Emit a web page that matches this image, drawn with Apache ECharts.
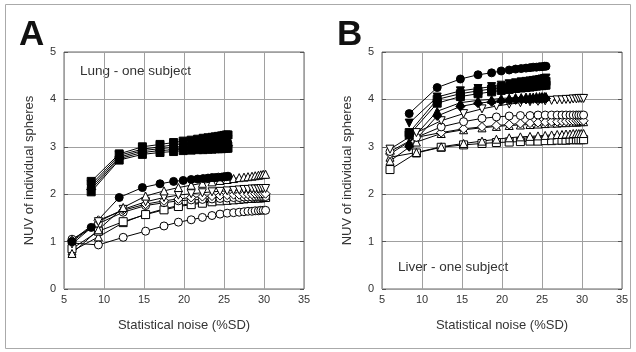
<!DOCTYPE html>
<html>
<head>
<meta charset="utf-8">
<script src="https://cdn.jsdelivr.net/npm/echarts@6/dist/echarts.min.js"></script>
<style>
  html, body { margin: 0; padding: 0; background: #fff; }
  #chart { width: 636px; height: 352px; }
</style>
</head>
<body>
<div id="chart"></div>
<script>
// noise levels (%SD) at each iteration
const xShort = [8.4, 11.9, 14.8, 17.0, 18.7, 19.9, 20.9, 21.7, 22.4, 23.0, 23.5, 23.9, 24.3, 24.7, 25.0, 25.3, 25.5];
const xShort6 = [6.0, 8.4, 11.9, 14.8, 17.0, 18.7, 19.9, 20.9, 21.7, 22.4, 23.0, 23.5, 23.9, 24.3, 24.7, 25.0, 25.3, 25.5];
const xLong = [6.0, 9.3, 12.4, 15.2, 17.5, 19.3, 20.9, 22.3, 23.5, 24.5, 25.4, 26.2, 26.9, 27.5, 28.0, 28.5, 28.9, 29.3, 29.6, 29.9, 30.2];

// A - lung
const aSqF = [2.27, 2.85, 3.0, 3.05, 3.09, 3.12, 3.14, 3.16, 3.18, 3.19, 3.2, 3.21, 3.22, 3.23, 3.24, 3.25, 3.25];
const aTriDnF = [2.2, 2.82, 2.95, 3.0, 3.04, 3.07, 3.09, 3.1, 3.11, 3.12, 3.13, 3.13, 3.14, 3.14, 3.15, 3.15, 3.15];
const aCircF = [2.15, 2.78, 2.92, 2.96, 2.99, 3.01, 3.02, 3.03, 3.04, 3.05, 3.05, 3.06, 3.06, 3.07, 3.07, 3.07, 3.08];
const aDiaF = [2.1, 2.75, 2.88, 2.92, 2.94, 2.96, 2.97, 2.98, 2.99, 3.0, 3.0, 3.01, 3.01, 3.02, 3.02, 3.02, 3.02];
const aSqF2 = [2.05, 2.72, 2.84, 2.88, 2.9, 2.92, 2.93, 2.94, 2.94, 2.95, 2.95, 2.96, 2.96, 2.96, 2.97, 2.97, 2.97];
const aCircF2 = [1.0, 1.3, 1.93, 2.14, 2.22, 2.27, 2.29, 2.31, 2.32, 2.33, 2.34, 2.35, 2.35, 2.36, 2.36, 2.37, 2.37, 2.38];
const aTriUpO = [0.75, 1.25, 1.72, 1.96, 2.07, 2.14, 2.19, 2.23, 2.26, 2.29, 2.31, 2.33, 2.35, 2.36, 2.37, 2.38, 2.39, 2.4, 2.41, 2.42, 2.42];
const aTriDnO = [0.95, 1.42, 1.68, 1.84, 1.93, 1.98, 2.01, 2.03, 2.05, 2.06, 2.07, 2.08, 2.09, 2.1, 2.1, 2.11, 2.11, 2.11, 2.12, 2.12, 2.12];
const aDiaO = [1.02, 1.45, 1.66, 1.79, 1.86, 1.9, 1.93, 1.95, 1.96, 1.97, 1.98, 1.99, 1.99, 2.0, 2.0, 2.0, 2.01, 2.01, 2.01, 2.01, 2.01];
const aCircO2 = [1.05, 1.38, 1.62, 1.76, 1.82, 1.86, 1.88, 1.89, 1.9, 1.91, 1.92, 1.93, 1.93, 1.94, 1.94, 1.94, 1.95, 1.95, 1.95, 1.95, 1.95];
const aSqO = [0.85, 1.22, 1.42, 1.57, 1.67, 1.74, 1.78, 1.81, 1.84, 1.86, 1.87, 1.88, 1.89, 1.9, 1.91, 1.91, 1.92, 1.92, 1.92, 1.93, 1.93];
const aTriUpO2 = [0.8, 1.1, 1.4, 1.58, 1.69, 1.76, 1.8, 1.83, 1.86, 1.88, 1.89, 1.9, 1.91, 1.92, 1.93, 1.93, 1.94, 1.94, 1.95, 1.95, 1.95];
const aCircO = [0.97, 0.93, 1.09, 1.22, 1.33, 1.41, 1.46, 1.51, 1.55, 1.58, 1.6, 1.61, 1.62, 1.63, 1.64, 1.64, 1.65, 1.65, 1.66, 1.66, 1.66];

// B - liver
const bCircF = [3.7, 4.25, 4.43, 4.52, 4.56, 4.6, 4.62, 4.64, 4.65, 4.66, 4.67, 4.68, 4.68, 4.69, 4.69, 4.7, 4.7];
const bTriDnF = [3.5, 4.05, 4.18, 4.23, 4.27, 4.3, 4.33, 4.35, 4.37, 4.38, 4.39, 4.4, 4.41, 4.42, 4.43, 4.44, 4.45];
const bSqF = [3.3, 4.0, 4.12, 4.18, 4.22, 4.25, 4.27, 4.29, 4.31, 4.32, 4.33, 4.34, 4.35, 4.36, 4.37, 4.38, 4.38];
const bSqF2 = [3.25, 3.92, 4.06, 4.12, 4.16, 4.19, 4.21, 4.23, 4.24, 4.25, 4.26, 4.27, 4.28, 4.29, 4.29, 4.3, 4.3];
const bTriF = [3.1, 3.75, 3.93, 3.98, 4.0, 4.02, 4.03, 4.04, 4.04, 4.05, 4.05, 4.05, 4.06, 4.06, 4.06, 4.06, 4.06];
const bDiaF = [3.0, 3.65, 3.85, 3.92, 3.95, 3.97, 3.98, 3.99, 4.0, 4.0, 4.0, 4.01, 4.01, 4.01, 4.01, 4.02, 4.02];
const bTriDnO = [2.95, 3.3, 3.55, 3.7, 3.8, 3.86, 3.9, 3.93, 3.95, 3.96, 3.97, 3.98, 3.99, 3.99, 4.0, 4.0, 4.01, 4.01, 4.02, 4.02, 4.02];
const bCircO = [2.9, 3.2, 3.42, 3.53, 3.6, 3.63, 3.65, 3.66, 3.66, 3.67, 3.67, 3.67, 3.67, 3.67, 3.67, 3.67, 3.67, 3.67, 3.67, 3.67, 3.67];
const bDiaO = [2.85, 3.2, 3.3, 3.38, 3.42, 3.45, 3.47, 3.49, 3.5, 3.51, 3.52, 3.53, 3.53, 3.54, 3.54, 3.55, 3.55, 3.55, 3.55, 3.55, 3.55];
const bTriUpO = [2.7, 3.1, 3.28, 3.36, 3.4, 3.43, 3.45, 3.46, 3.47, 3.48, 3.49, 3.5, 3.5, 3.51, 3.51, 3.52, 3.52, 3.52, 3.53, 3.53, 3.53];
const bTriUpO2 = [2.78, 2.88, 3.0, 3.07, 3.12, 3.16, 3.19, 3.21, 3.22, 3.23, 3.24, 3.25, 3.26, 3.26, 3.27, 3.27, 3.28, 3.28, 3.28, 3.28, 3.28];
const bSqO = [2.52, 2.87, 2.99, 3.04, 3.07, 3.09, 3.1, 3.11, 3.12, 3.12, 3.13, 3.13, 3.14, 3.14, 3.14, 3.15, 3.15, 3.15, 3.15, 3.15, 3.15];

const FONT = "Liberation Sans";
const SYM = { circle: ["circle", 0], square: ["rect", 0], triUp: ["triangle", 0], triDn: ["triangle", 180], diamond: ["diamond", 0] };

function line(panel, xs, ys, shape, filled) {
  const [symbol, rot] = SYM[shape];
  return {
    type: "line",
    xAxisIndex: panel,
    yAxisIndex: panel * 2,
    data: xs.map((x, i) => [x, ys[i]]),
    symbol,
    symbolRotate: rot,
    symbolSize: shape === "diamond" ? 9 : 8,
    showSymbol: true,
    lineStyle: { color: "#000", width: 1 },
    itemStyle: { color: filled ? "#000" : "#fff", borderColor: "#000", borderWidth: 1 },
    emphasis: { disabled: true },
  };
}

function xAxis(panel) {
  return {
    type: "value", gridIndex: panel, min: 5, max: 35, interval: 5,
    name: "Statistical noise (%SD)", nameLocation: "middle", nameGap: 30,
    nameTextStyle: { fontFamily: FONT, fontSize: 13, color: "#333" },
    axisLine: { show: false }, axisTick: { show: false },
    axisLabel: { fontFamily: FONT, fontSize: 11, color: "#333", margin: 5 },
    splitLine: { show: true, lineStyle: { color: "#a0a0a0", width: 1 } },
  };
}

function yAxis(panel, right) {
  return {
    type: "value", gridIndex: panel, min: 0, max: 5, interval: 1,
    position: right ? "right" : "left",
    name: right ? "" : "NUV of individual spheres", nameLocation: "middle", nameGap: 28,
    nameTextStyle: { fontFamily: FONT, fontSize: 13, color: "#333" },
    axisLine: { show: false },
    axisTick: { show: true, inside: true, length: 4, lineStyle: { color: "#555" } },
    axisLabel: { show: !right, fontFamily: FONT, fontSize: 11, color: "#333", margin: 8 },
    splitLine: { show: !right, lineStyle: { color: "#a0a0a0", width: 1 } },
  };
}

const chart = echarts.init(document.getElementById("chart"), null, { renderer: "canvas" });
chart.setOption({
  animation: false,
  backgroundColor: "#fff",
  grid: [
    { left: 64, top: 52, width: 240, height: 237, show: true, borderColor: "#666", borderWidth: 1, backgroundColor: "transparent" },
    { left: 382, top: 52, width: 240, height: 237, show: true, borderColor: "#666", borderWidth: 1, backgroundColor: "transparent" },
  ],
  xAxis: [xAxis(0), xAxis(1)],
  yAxis: [yAxis(0, false), yAxis(0, true), yAxis(1, false), yAxis(1, true)],
  graphic: [
    { type: "rect", shape: { x: 5.5, y: 4.5, width: 625, height: 344 }, style: { fill: "none", stroke: "#aaa", lineWidth: 1 }, silent: true },
    { type: "text", left: 19, top: 18, style: { text: "A", font: "bold 35px " + FONT, fill: "#111" } },
    { type: "text", left: 337, top: 18, style: { text: "B", font: "bold 35px " + FONT, fill: "#111" } },
    { type: "text", left: 80, top: 64, style: { text: "Lung - one subject", font: "13.5px " + FONT, fill: "#333" } },
    { type: "text", left: 398, top: 260, style: { text: "Liver - one subject", font: "13.5px " + FONT, fill: "#333" } },
  ],
  series: [
    line(0, xLong, aCircO, "circle", false),
    line(0, xLong, aTriUpO2, "triUp", false),
    line(0, xLong, aSqO, "square", false),
    line(0, xLong, aCircO2, "circle", false),
    line(0, xLong, aDiaO, "diamond", false),
    line(0, xLong, aTriDnO, "triDn", false),
    line(0, xLong, aTriUpO, "triUp", false),
    line(0, xShort6, aCircF2, "circle", true),
    line(0, xShort, aSqF2, "square", true),
    line(0, xShort, aDiaF, "diamond", true),
    line(0, xShort, aCircF, "circle", true),
    line(0, xShort, aTriDnF, "triDn", true),
    line(0, xShort, aSqF, "square", true),

    line(1, xLong, bSqO, "square", false),
    line(1, xLong, bTriUpO2, "triUp", false),
    line(1, xLong, bTriUpO, "triUp", false),
    line(1, xLong, bDiaO, "diamond", false),
    line(1, xLong, bCircO, "circle", false),
    line(1, xLong, bTriDnO, "triDn", false),
    line(1, xShort, bDiaF, "diamond", true),
    line(1, xShort, bTriF, "triUp", true),
    line(1, xShort, bSqF2, "square", true),
    line(1, xShort, bSqF, "square", true),
    line(1, xShort, bTriDnF, "triDn", true),
    line(1, xShort, bCircF, "circle", true),
  ],
});
</script>
</body>
</html>
